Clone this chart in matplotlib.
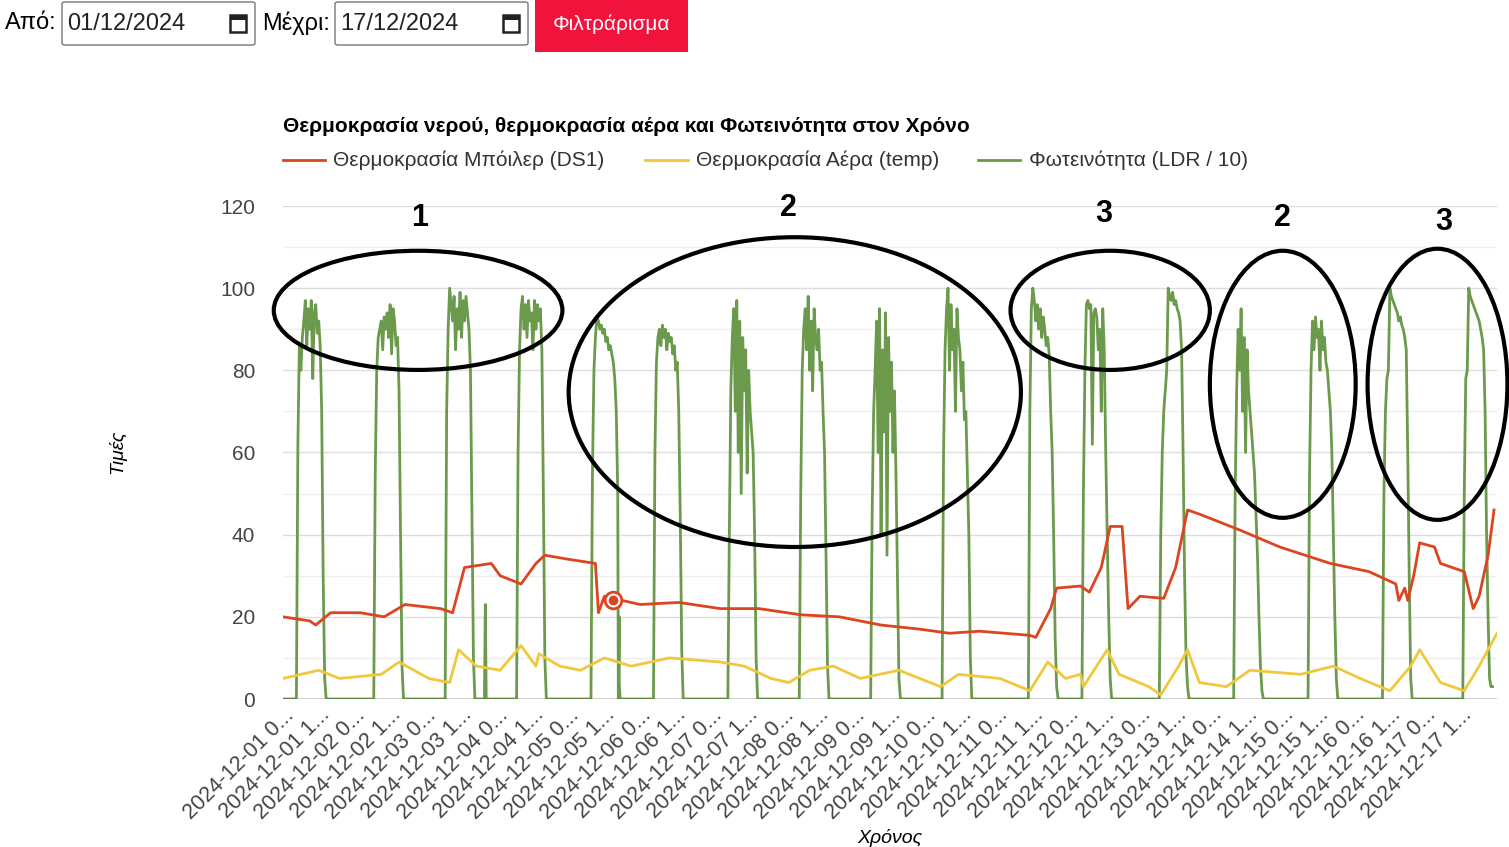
import matplotlib
matplotlib.use("Agg")
import matplotlib.pyplot as plt
from matplotlib.patches import Ellipse, FancyBboxPatch, Rectangle
from matplotlib.lines import Line2D
import numpy as np

plt.rcParams["font.family"] = "Liberation Sans"

# ---------------- data ----------------
boiler_t = [0,9,11,16,26,34,41,53,57,61,70,73,80,85,88,96,105,106,108,120,133,147,160,174,187,201,214,224,234,251,253,258,260,268,271,275,278,282,284,288,296,300,304,308,322,335,352,365,374,375,377,378,380,382,387,389,397,400,402,405,407]
boiler_v = [20,19,18,21,21,20,23,22,21,32,33,30,28,33,35,34,33,21,25,23,23.5,22,22,20.5,20,18,17,16,16.5,15.5,15,22,27,27.5,26,32,42,42,22,25,24.5,32,46,45,41,37,33,31,28,24,27,24,30,38,37,33,31,22,25,35,46]
air_t = [0,12,19,33,39,49,56,59,65,73,80,85,86,93,100,108,117,130,147,155,164,170,177,185,194,207,214,221,227,241,251,257,263,268,269,277,281,291,295,301,304,308,317,325,342,353,362,372,379,382,389,397,402,408]
air_v = [5,7,5,6,9,5,4,12,8,7,13,8,11,8,7,10,8,10,9,8,5,4,7,8,5,7,5,3,6,5,2,9,5,6,3,12,6,3,1,8,12,4,3,7,6,8,5,2,8,12,4,2,8,16]
light_start = [5,31,55,79,104,125,150,174,198,222,251,269,295,320,345,370,397]
light_profiles = [
 [62,86,80,88,92,97,86,95,90,97,78,94,96,89,92,86,70,30,5,0],
 [55,80,88,90,92,85,93,90,94,88,96,84,95,92,86,88,75,40,8,0],
 [70,90,100,96,92,98,85,95,90,99,88,97,92,98,94,90,80,45,10,0],
 [60,85,95,98,90,96,88,97,92,94,85,97,90,96,92,95,85,50,10,0],
 [55,80,88,93,92,90,91,89,90,87,88,85,86,84,82,78,70,50,20,0],
 [60,82,88,90,86,91,88,90,85,89,87,88,84,86,80,82,70,45,12,0],
 [40,75,88,95,70,97,60,92,50,88,75,85,55,80,70,65,60,40,10,0],
 [50,80,90,95,85,98,80,92,75,95,88,85,90,80,82,70,60,35,8,0],
 [45,70,80,92,60,95,40,85,65,94,35,88,70,82,60,75,55,30,5,0],
 [60,85,95,100,80,96,85,90,70,95,88,85,75,82,68,70,55,40,10,0],
 [70,95,100,97,92,96,90,95,88,93,90,86,88,84,70,60,40,15,3,0],
 [50,80,96,97,95,96,62,94,95,93,85,90,70,95,85,60,40,20,5,0],
 [40,60,70,75,80,100,98,97,99,96,97,95,94,92,85,60,30,10,3,0],
 [50,75,90,80,95,70,88,60,85,75,70,65,60,55,45,35,20,8,2,0],
 [55,80,92,85,93,88,90,80,92,85,88,82,80,75,70,60,40,20,5,0],
 [50,70,78,80,100,98,97,96,95,94,92,93,91,90,88,85,60,30,5,0],
 [50,78,80,100,98,97,96,95,94,93,92,90,88,85,70,40,20,5,3,3],
]
light_spike_t = [68, 113]
light_spike_v = [23, 4]
days = ["%02d" % d for d in range(1, 18)]
tick_labels = [f"2024-12-{d} {h}..." for d in days for h in ("0", "1")]
annot_labels = ["1", "2", "3", "2", "3"]
annot_pos = [(46, 117), (170, 119.5), (276, 118), (336, 117), (390, 116)]
ellipses = [(45.4, 94.6, 97, 29), (172, 74.7, 152, 75.4), (278, 94.6, 67, 29), (336, 76.6, 49, 65), (388, 76.6, 47, 66)]

# build light series
lt, lv = [0.0], [0.0]
for s, prof in zip(light_start, light_profiles):
    pts = [(s - 0.5, 0)] + [(s + 0.5 * i, v) for i, v in enumerate(prof)]
    for t, v in pts:
        lt.append(t); lv.append(v)
    if prof[-1] == 0:
        lt.append(s + 10.5); lv.append(0)
for t, v in zip(light_spike_t, light_spike_v):
    lt += [t - 0.3, t, t + 0.3]; lv += [0, v, 0]
order = np.argsort(lt, kind="stable")
lt = np.array(lt)[order]; lv = np.array(lv)[order]

RED = "#dd4420"; YEL = "#f0c83c"; GRN = "#6b9a4c"

fig = plt.figure(figsize=(15.09, 8.47), dpi=100)
ax = fig.add_axes([283/1509, 1-699/847, (1497-283)/1509, (699-206)/847])
ax.plot(lt, lv, color=GRN, lw=2, zorder=2)
ax.plot(boiler_t, boiler_v, color=RED, lw=2, zorder=3)
ax.plot(air_t, air_v, color=YEL, lw=2, zorder=3)
ax.plot([111], [24], 'o', ms=12, mfc="white", mec=RED, mew=2, zorder=5)
ax.plot([111], [24], 'o', ms=6, color=RED, zorder=6)

ax.set_xlim(0, 408); ax.set_ylim(0, 120)
ax.set_yticks(range(0, 121, 20))
ax.set_yticks(range(10, 121, 20), minor=True)
ax.grid(axis="y", which="major", color="#dddddd", lw=1)
ax.grid(axis="y", which="minor", color="#eeeeee", lw=1)
ax.set_xticks(np.arange(0, 408, 12))
ax.set_xticklabels(tick_labels, rotation=45, ha="right", rotation_mode="anchor", fontsize=15.5, color="#444444")
ax.tick_params(axis="y", which="both", labelsize=15, labelcolor="#444444", length=0, pad=20)
ax.tick_params(axis="x", length=0, pad=4)
for s in ax.spines.values():
    s.set_visible(False)
ax.axhline(0, color="#333333", lw=1)

for (cx, cy, w, h) in ellipses:
    ax.add_patch(Ellipse((cx, cy), w, h, fill=False, ec="black", lw=3, clip_on=False, zorder=7))
for lab, (x, y) in zip(annot_labels, annot_pos):
    ax.text(x, y, lab, fontsize=22, fontweight="bold", ha="center", va="center", clip_on=False)

fig.text(117/1509, 1-452/847, "Τιμές", rotation=90, style="italic", fontsize=14, ha="center", va="center")
fig.text(890/1509, 1-838/847, "Χρόνος", style="italic", fontsize=14, ha="center", va="center")
fig.text(283/1509, 1-126/847, "Θερμοκρασία νερού, θερμοκρασία αέρα και Φωτεινότητα στον Χρόνο",
         fontsize=15, fontweight="bold", va="center")
for (x0, x1, xt, c, t) in [(283, 325, 333, RED, "Θερμοκρασία Μπόιλερ (DS1)"),
                           (645, 688, 696, YEL, "Θερμοκρασία Αέρα (temp)"),
                           (978, 1020, 1029, GRN, "Φωτεινότητα (LDR / 10)")]:
    fig.add_artist(Line2D([x0/1509, x1/1509], [1-160/847]*2, color=c, lw=2))
    fig.text(xt/1509, 1-160/847, t, fontsize=15, va="center", color="#333333")

# top form controls
fig.text(5/1509, 1-23/847, "Από:", fontsize=17, va="center")
fig.text(262/1509, 1-23/847, "Μέχρι:", fontsize=17, va="center")
for (x, w, t) in [(62, 193, "01/12/2024"), (335, 193, "17/12/2024")]:
    fig.add_artist(FancyBboxPatch((x/1509, 1-45/847), w/1509, 43/847, boxstyle="round,pad=0,rounding_size=0.002",
                                  transform=fig.transFigure, fc="white", ec="#777777", lw=1))
    fig.text((x+5)/1509, 1-24/847, t, fontsize=17, va="center", color="#222222")
    fig.add_artist(Rectangle(((x+w-25)/1509, 1-32/847), 16/1509, 17/847, transform=fig.transFigure,
                             fc="white", ec="#222222", lw=1.8))
    fig.add_artist(Rectangle(((x+w-25)/1509, 1-20/847), 16/1509, 4/847, transform=fig.transFigure,
                             fc="#222222", ec="none"))
fig.add_artist(Rectangle((535/1509, 1-52/847), 153/1509, 52/847, transform=fig.transFigure, fc="#f0143c", ec="none"))
fig.text(611/1509, 1-24/847, "Φιλτράρισμα", fontsize=15, color="white", ha="center", va="center")

fig.savefig("out.png", dpi=100)
